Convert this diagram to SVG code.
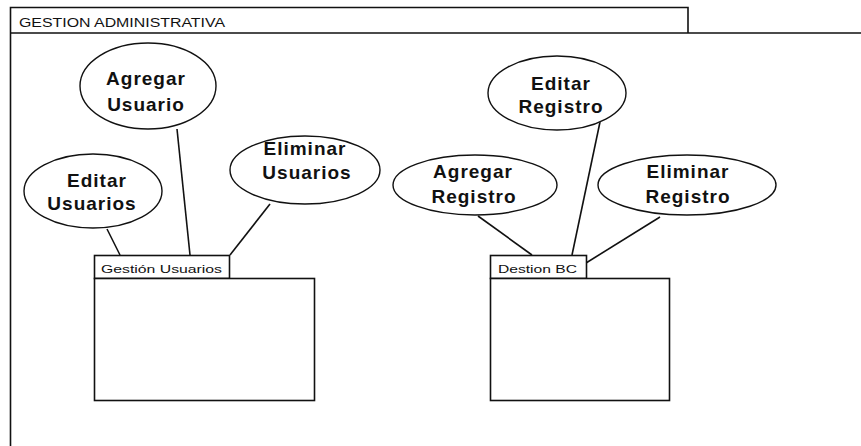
<svg xmlns="http://www.w3.org/2000/svg" width="861" height="446" viewBox="0 0 861 446">
<style>
.ln{stroke:#111;stroke-width:1.6;fill:none}
.uc{stroke:#111;stroke-width:1.4;fill:#fff}
.box{stroke:#111;stroke-width:1.6;fill:#fff}
.t{font-family:"Liberation Sans",Arial,sans-serif;fill:#111}
.u{font-size:19px;font-weight:bold;text-anchor:middle;letter-spacing:1px}
.s{font-size:11px}
</style>
<rect width="861" height="446" fill="#fff"/>
<g id="frame">
<path class="ln" d="M10.5,446 V7.5 H688 V33 M10.5,33 H861"/>
<text class="t" x="19" y="27" font-size="12" textLength="206" lengthAdjust="spacingAndGlyphs">GESTION ADMINISTRATIVA</text>
</g>
<g id="connectors">
<line class="ln" x1="107" y1="229" x2="120" y2="255"/>
<line class="ln" x1="177" y1="129" x2="190" y2="255"/>
<line class="ln" x1="270" y1="204" x2="230" y2="255"/>
<line class="ln" x1="478" y1="216" x2="532" y2="255"/>
<line class="ln" x1="600" y1="122" x2="572" y2="255"/>
<line class="ln" x1="660" y1="217" x2="586" y2="263"/>
</g>
<g id="pkg-usuarios">
<rect class="box" x="94.5" y="255.5" width="135" height="23"/>
<rect class="box" x="94.5" y="278.5" width="220" height="122"/>
<text class="t s" x="101" y="273" textLength="121" lengthAdjust="spacingAndGlyphs">Gestión Usuarios</text>
</g>
<g id="pkg-bc">
<rect class="box" x="490.5" y="255.5" width="96" height="23"/>
<rect class="box" x="490.5" y="278.5" width="179" height="122"/>
<text class="t s" x="498" y="273" textLength="79" lengthAdjust="spacingAndGlyphs">Destion BC</text>
</g>
<g id="uc-agregar-usuario">
<ellipse class="uc" cx="148" cy="86" rx="68" ry="43"/>
<text class="t u" x="146" y="85">Agregar</text>
<text class="t u" x="146" y="111">Usuario</text>
</g>
<g id="uc-editar-usuarios">
<ellipse class="uc" cx="93" cy="191" rx="69" ry="37"/>
<text class="t u" x="97" y="187" font-weight="normal">Editar</text>
<text class="t u" x="92" y="210">Usuarios</text>
</g>
<g id="uc-eliminar-usuarios">
<ellipse class="uc" cx="305" cy="170" rx="75" ry="34"/>
<text class="t u" x="305" y="155">Eliminar</text>
<text class="t u" x="307" y="179">Usuarios</text>
</g>
<g id="uc-editar-registro">
<ellipse class="uc" cx="557" cy="93" rx="69" ry="37"/>
<text class="t u" x="561" y="90">Editar</text>
<text class="t u" x="561" y="113">Registro</text>
</g>
<g id="uc-agregar-registro">
<ellipse class="uc" cx="475" cy="185" rx="82" ry="30"/>
<text class="t u" x="473" y="178">Agregar</text>
<text class="t u" x="474" y="203">Registro</text>
</g>
<g id="uc-eliminar-registro">
<ellipse class="uc" cx="687" cy="185" rx="89" ry="30"/>
<text class="t u" x="688" y="178">Eliminar</text>
<text class="t u" x="688" y="203">Registro</text>
</g>
</svg>
